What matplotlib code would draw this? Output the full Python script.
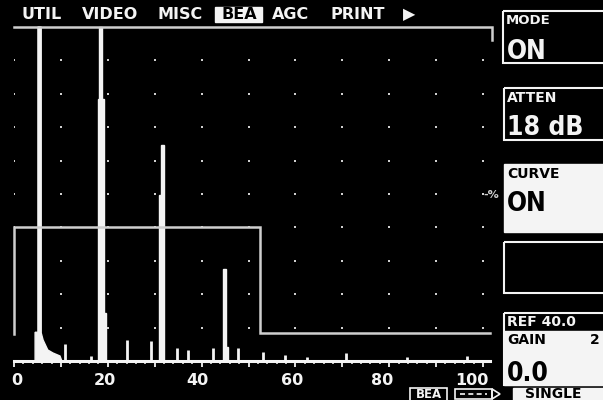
import numpy as np
import matplotlib
matplotlib.use('Agg')
import matplotlib.pyplot as plt
from matplotlib.patches import Rectangle, Polygon

# A-scan echoes (x in % of range, amplitude in % screen height)
echo1_x = [4.5, 4.5, 5.1, 5.1, 5.8, 5.8, 6.2, 7.2, 8.3, 9.8, 10.2]
echo1_y = [0, 8.6, 8.6, 100, 100, 8.4, 6.3, 3.3, 2.4, 1.5, 0]
echo2_x = [17.9, 17.9, 18.1, 18.1, 18.7, 18.7, 19.2, 19.2, 19.6, 19.6]
echo2_y = [0, 78.5, 78.5, 100, 100, 78.5, 78.5, 14.4, 14.4, 0]
echo3_x = [30.9, 30.9, 31.3, 31.3, 32.0, 32.0]
echo3_y = [0, 49.7, 49.7, 64.7, 64.7, 0]
echo4_x = [44.5, 44.5, 45.3, 45.3, 45.6, 45.6]
echo4_y = [0, 27.5, 27.5, 4.2, 4.2, 0]

# small noise spikes
spike_x = [10.9, 16.4, 24.0, 29.2, 34.8, 37.1, 42.4, 47.8, 53.1, 57.8, 62.5, 70.8, 83.8, 96.6]
spike_h = [5.1, 1.5, 6.3, 6.0, 3.9, 3.3, 3.9, 3.9, 2.7, 1.8, 1.2, 2.4, 1.2, 1.5]

# gate / curve and screen frame
gate_x = [0, 0, 52.5, 52.5, 101.5]
gate_y = [8.0, 40, 40, 8.4, 8.4]
frame_x = [0, 101.9, 101.9]
frame_y = [100, 100, 96.1]

# x labels
xlab_text = ['0', '20', '40', '60', '80', '100']
xlab_pos = [0.6, 19.4, 39.2, 59.3, 78.5, 97.6]

# menu bar
menu_words = ['UTIL', 'VIDEO', 'MISC', 'BEA', 'AGC', 'PRINT', '\u25B6']
menu_x = [42, 110, 180, 239, 291, 358, 409]

W = '#f4f4f4'
G = '#cfcfcf'
BOLD = dict(family='DejaVu Sans', weight='bold')
BIG = dict(family='DejaVu Sans', weight='bold', fontstretch='condensed')

fig = plt.figure(figsize=(6.03, 4.0), dpi=100, facecolor='black')

# full-screen overlay for the instrument chrome, in pixels
ui = fig.add_axes([0, 0, 1, 1])
ui.set_xlim(0, 603)
ui.set_ylim(400, 0)
ui.axis('off')
ui.set_facecolor('black')

# menu
ui.add_patch(Rectangle((215, 7), 47, 15, color=W))
for w, x in zip(menu_words, menu_x):
    c = 'black' if w == 'BEA' else W
    ui.text(x, 14.5, w, color=c, fontsize=11.5, ha='center', va='center', **BOLD)

# right panel boxes
ui.add_patch(Rectangle((503, 11), 110, 52, fill=False, ec=W, lw=1.5))
ui.text(506, 20, 'MODE', color=W, fontsize=9.5, va='center', **BOLD)
ui.text(507, 59, 'ON', color=W, fontsize=19, va='baseline', **BIG)

ui.add_patch(Rectangle((504, 88), 110, 52, fill=False, ec=W, lw=1.5))
ui.text(507, 97.5, 'ATTEN', color=W, fontsize=10, va='center', **BOLD)
ui.text(507, 135, '18 dB', color=W, fontsize=19, va='baseline', **BIG)

ui.add_patch(Rectangle((504, 164), 110, 68, color=W))
ui.text(507, 174, 'CURVE', color='black', fontsize=10, va='center', **BOLD)
ui.text(507, 211, 'ON', color='black', fontsize=19, va='baseline', **BIG)
ui.text(491, 195, '-%', color=G, fontsize=8, ha='center', va='center', **BOLD)

ui.add_patch(Rectangle((504, 242), 110, 51, fill=False, ec=W, lw=1.5))

ui.add_patch(Rectangle((504, 313), 110, 72, fill=False, ec=W, lw=1.5))
ui.add_patch(Rectangle((504, 331), 110, 54, color=W))
ui.text(507, 322, 'REF 40.0', color=W, fontsize=10, va='center', **BOLD)
ui.text(507, 340.5, 'GAIN', color='black', fontsize=10, va='center', **BOLD)
ui.text(590, 340.5, '2', color='black', fontsize=10, va='center', **BOLD)
ui.text(507, 381, '0.0', color='black', fontsize=19, va='baseline', **BIG)

# bottom status
ui.add_patch(Rectangle((410, 388), 37, 13, fill=False, ec=W, lw=1.2))
ui.text(428.5, 394.5, 'BEA', color=W, fontsize=8.5, ha='center', va='center', **BOLD)
ui.add_patch(Rectangle((455, 389), 37, 10, fill=False, ec=W, lw=1.2))
ui.add_patch(Polygon([[492, 389], [500, 394], [492, 399]], closed=True, fill=False, ec=W, lw=1.2))
ui.plot([460, 487], [394, 394], color=W, lw=1.2, ls=(0, (3, 2)))
ui.add_patch(Rectangle((513, 388), 100, 13, color=W))
ui.text(525, 394.5, 'SINGLE', color='black', fontsize=10, va='center', **BOLD)

# A-scan area
ax = fig.add_axes([14 / 603, 39 / 400, 469 / 603, 334 / 400])
ax.set_xlim(0, 100)
ax.set_ylim(0, 100)
ax.patch.set_alpha(0)
for s in ax.spines.values():
    s.set_visible(False)

# dot grid
gx, gy = np.meshgrid(np.arange(0, 101, 10), np.arange(10, 91, 10))
ax.scatter(gx.ravel(), gy.ravel(), s=2.5, marker='s', color=G, lw=0)

# frame and gate
ax.plot(frame_x, frame_y, color=G, lw=1.8, clip_on=False, solid_joinstyle='miter')
ax.plot(gate_x, gate_y, color=G, lw=1.8, clip_on=False, solid_joinstyle='miter')

# trace
for ex, ey in [(echo1_x, echo1_y), (echo2_x, echo2_y), (echo3_x, echo3_y), (echo4_x, echo4_y)]:
    ax.fill(ex, ey, color=W, lw=1.0, ec=W, clip_on=False)
ax.vlines(spike_x, 0, spike_h, color=W, lw=2.0)
ax.plot([0, 101.5], [0, 0], color=W, lw=2.2, clip_on=False)

# ticks along the baseline
ax.set_xticks(np.arange(0, 101, 10))
ax.set_xticks(np.arange(0, 101, 2), minor=True)
ax.set_yticks([])
ax.tick_params(axis='x', which='major', direction='out', length=4.5, width=1.3,
               color=W, labelbottom=False)
ax.tick_params(axis='x', which='minor', direction='out', length=2.5, width=1.1,
               color=W)
for t, x in zip(xlab_text, xlab_pos):
    ax.text(x, -5.8, t, color=W, fontsize=11.5, ha='center', va='center',
            clip_on=False, **BOLD)

fig.savefig('out.png', dpi=100, facecolor='black')
